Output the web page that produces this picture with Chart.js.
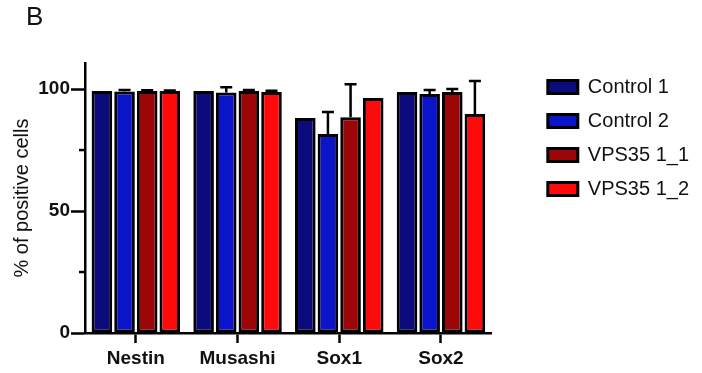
<!DOCTYPE html>
<html>
<head>
<meta charset="utf-8">
<script src="https://cdn.jsdelivr.net/npm/chart.js@4"></script>
<style>
  body { margin: 0; background: #fff; }
  #wrap { position: relative; width: 702px; height: 373px; }
  #panel { position: absolute; left: 26px; top: 1px; font: 26px "Liberation Sans", Arial, sans-serif; color: #111; }
</style>
</head>
<body>
<div id="wrap">
  <canvas id="myChart" width="702" height="373"></canvas>
  <div id="panel">B</div>
</div>
<script>
const markers = ['Nestin', 'Musashi', 'Sox1', 'Sox2']
const seriesNames = ['Control 1', 'Control 2', 'VPS35 1_1', 'VPS35 1_2']
const control1 = [99.2, 99.2, 88.1, 98.8]
const control2 = [99.0, 98.6, 81.6, 98.0]
const vps35_1 = [99.2, 99.2, 88.5, 98.8]
const vps35_2 = [99.2, 98.8, 96.3, 89.8]
const control1Err = [0, 0, 0, 0]
const control2Err = [0.6, 2.2, 9.0, 1.6]
const vps35_1Err = [0.3, 0.4, 13.5, 1.2]
const vps35_2Err = [0.2, 0.5, 0, 13.5]
const yTicks = [0, 50, 100]
const yMinorTicks = [25, 75]

const fillColors = ['#0b0b7d', '#0a14c8', '#9c0606', '#ff0a0a']
const font = '"Liberation Sans", Arial, sans-serif'

const errorBars = {
    id: 'errorBars',
    afterDatasetsDraw(chart) {
        let ctx = chart.ctx
        let y = chart.scales.y
        ctx.save()
        ctx.strokeStyle = '#000'
        ctx.lineWidth = 2.5
        chart.data.datasets.forEach((ds, i) => {
            let meta = chart.getDatasetMeta(i)
            meta.data.forEach((bar, j) => {
                let err = ds.errors[j]
                if (!err) return
                let top = y.getPixelForValue(ds.data[j] + err)
                ctx.beginPath()
                ctx.moveTo(bar.x, bar.y)
                ctx.lineTo(bar.x, top)
                ctx.moveTo(bar.x - 6, top)
                ctx.lineTo(bar.x + 6, top)
                ctx.stroke()
            })
        })
        ctx.restore()
    }
}

// short minor ticks on the y axis
const minorTicks = {
    id: 'minorTicks',
    afterDraw(chart) {
        let ctx = chart.ctx
        let y = chart.scales.y
        let x0 = chart.chartArea.left
        ctx.save()
        ctx.strokeStyle = '#000'
        ctx.lineWidth = 2.5
        yMinorTicks.forEach(v => {
            let py = y.getPixelForValue(v)
            ctx.beginPath()
            ctx.moveTo(x0 - 6, py)
            ctx.lineTo(x0, py)
            ctx.stroke()
        })
        ctx.restore()
    }
}

function makeDataset(label, data, errors, color) {
    return {
        label: label,
        data: data,
        errors: errors,
        backgroundColor: color,
        borderColor: '#000',
        borderWidth: 3,
        borderSkipped: false,
        categoryPercentage: 0.89,
        barPercentage: 0.91
    }
}

new Chart(document.getElementById('myChart'), {
    type: 'bar',
    data: {
        labels: markers,
        datasets: [
            makeDataset(seriesNames[0], control1, control1Err, fillColors[0]),
            makeDataset(seriesNames[1], control2, control2Err, fillColors[1]),
            makeDataset(seriesNames[2], vps35_1, vps35_1Err, fillColors[2]),
            makeDataset(seriesNames[3], vps35_2, vps35_2Err, fillColors[3])
        ]
    },
    options: {
        responsive: false,
        animation: false,
        layout: { padding: { left: 10, top: 63, right: 3, bottom: 0 } },
        plugins: {
            tooltip: { enabled: false },
            legend: {
                position: 'right',
                align: 'start',
                maxWidth: 173,
                labels: {
                    boxWidth: 30,
                    boxHeight: 13,
                    padding: 14,
                    color: '#111',
                    font: { family: font, size: 20 }
                }
            }
        },
        scales: {
            x: {
                afterFit: axis => { axis.height = 40 },
                grid: {
                    offset: false,
                    drawOnChartArea: false,
                    tickLength: 10,
                    tickWidth: 2.5,
                    tickColor: '#000'
                },
                border: { color: '#000', width: 2.5 },
                ticks: { color: '#111', padding: 4, font: { family: font, size: 19, weight: 'bold' } }
            },
            y: {
                min: 0,
                max: 110.7,
                afterFit: axis => { axis.width = 75 },
                afterBuildTicks: axis => { axis.ticks = yTicks.map(v => ({ value: v })) },
                grid: {
                    drawOnChartArea: false,
                    tickLength: 14,
                    tickWidth: 2.5,
                    tickColor: '#000'
                },
                border: { color: '#000', width: 2.5 },
                ticks: {
                    color: '#111',
                    padding: 1,
                    font: { family: font, size: 19, weight: 'bold' }
                },
                title: {
                    display: true,
                    text: '% of positive cells',
                    color: '#111',
                    padding: 0,
                    font: { family: font, size: 20 }
                }
            },
            gap: {
                position: 'right',
                afterFit: axis => { axis.width = 42 },
                grid: { display: false },
                border: { display: false },
                ticks: { display: false }
            }
        }
    },
    plugins: [errorBars, minorTicks]
})
</script>
</body>
</html>
